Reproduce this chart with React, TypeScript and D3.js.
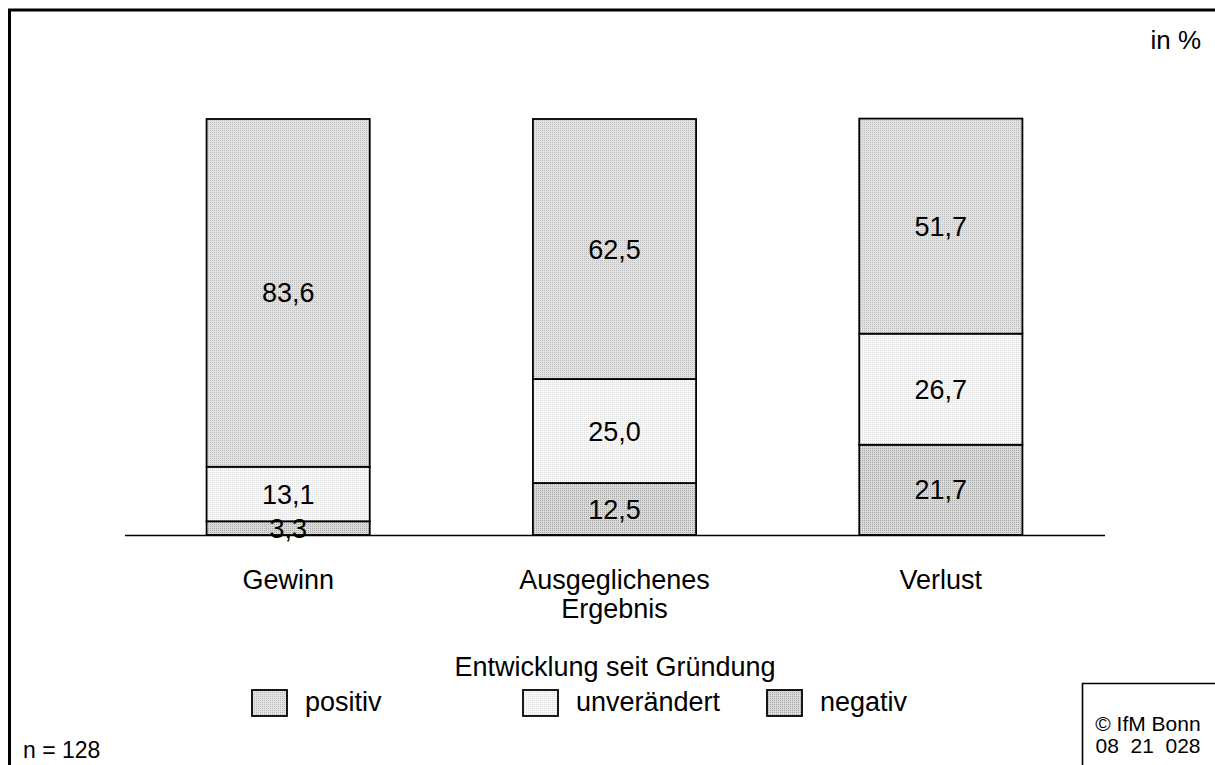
import React from "react";
import * as d3 from "d3";

const categories = ["Gewinn", "Ausgeglichenes\nErgebnis", "Verlust"];
const seriesNames = ["negativ", "unverändert", "positiv"];
const negativ = [3.3, 12.5, 21.7];
const unveraendert = [13.1, 25.0, 26.7];
const positiv = [83.6, 62.5, 51.7];
const legendOrder = ["positiv", "unverändert", "negativ"];

const W = 1215, H = 765;

export default function App() {
  const values: Record<string, number[]> = { negativ, "unverändert": unveraendert, positiv };
  const rows = categories.map((c, i) => {
    const r: any = { cat: c };
    seriesNames.forEach((s) => (r[s] = values[s][i]));
    return r;
  });
  const stack = d3.stack<any>().keys(seriesNames)(rows);
  const x = d3.scaleBand().domain(categories).range([125, 1104]).paddingInner(0.5).paddingOuter(0.25);
  const y = d3.scaleLinear().domain([0, 100]).range([535, 119]);
  const fills: Record<string, string> = {
    positiv: "url(#pPos)",
    "unverändert": "url(#pUnv)",
    negativ: "url(#pNeg)",
  };
  const fmt = (v: number) => v.toFixed(1).replace(".", ",");
  const font = "Liberation Sans, Arial, sans-serif";
  const legendX = [252, 523, 767];
  return (
    <svg width={W} height={H} style={{ position: "absolute", left: 0, top: 0 }} fontFamily={font}>
      <defs>
        <pattern id="pPos" width="2" height="2" patternUnits="userSpaceOnUse">
          <rect width="2" height="2" fill="#e2e2e2" />
          <rect width="1" height="1" fill="#bdbdbd" />
        </pattern>
        <pattern id="pUnv" width="2" height="2" patternUnits="userSpaceOnUse">
          <rect width="2" height="2" fill="#f8f8f8" />
          <rect width="1" height="1" fill="#dedede" />
        </pattern>
        <pattern id="pNeg" width="2" height="2" patternUnits="userSpaceOnUse">
          <rect width="2" height="2" fill="#dadada" />
          <rect width="1" height="1" fill="#a8a8a8" />
        </pattern>
      </defs>
      <rect x={0} y={0} width={W} height={H} fill="#fff" />
      <path d={`M9.5,${H + 5} V10 H${W + 5}`} fill="none" stroke="#000" strokeWidth={3} />
      <text x={1201} y={49} fontSize={26} textAnchor="end">in %</text>
      {stack.map((layer) => (
        <g key={layer.key}>
          {layer.map((d, i) => {
            const cat = categories[i];
            const x0 = x(cat)!;
            const y0 = y(d[1]);
            const y1 = y(d[0]);
            return (
              <rect key={cat} x={x0} y={y0} width={x.bandwidth()} height={y1 - y0} fill={fills[layer.key]} stroke="#000" strokeWidth={1.8} />
            );
          })}
        </g>
      ))}
      <line x1={125} x2={1105} y1={535.5} y2={535.5} stroke="#000" strokeWidth={1.6} />
      {stack.map((layer) => (
        <g key={layer.key + "t"}>
          {layer.map((d, i) => {
            const cat = categories[i];
            const cx = x(cat)! + x.bandwidth() / 2;
            const cy = (y(d[0]) + y(d[1])) / 2;
            return (
              <text key={cat} x={cx} y={cy + 9.5} fontSize={27} textAnchor="middle">
                {fmt(d[1] - d[0])}
              </text>
            );
          })}
        </g>
      ))}
      {categories.map((c) => (
        <text key={c} x={x(c)! + x.bandwidth() / 2} y={589} fontSize={27} textAnchor="middle">
          {c.split("\n").map((l, k) => (
            <tspan key={k} x={x(c)! + x.bandwidth() / 2} dy={k === 0 ? 0 : 29}>{l}</tspan>
          ))}
        </text>
      ))}
      <text x={615} y={676} fontSize={27} textAnchor="middle">Entwicklung seit Gründung</text>
      {legendOrder.map((s, i) => (
        <g key={s}>
          <rect x={legendX[i]} y={690} width={35} height={26} fill={fills[s]} stroke="#000" strokeWidth={1.8} />
          <text x={legendX[i] + 53} y={711} fontSize={27}>{s}</text>
        </g>
      ))}
      <text x={23} y={758} fontSize={23}>n = 128</text>
      <path d={`M1082.5,${H + 5} V683.5 H${W + 5}`} fill="none" stroke="#000" strokeWidth={1.6} />
      <text x={1148} y={731} fontSize={21} textAnchor="middle">© IfM Bonn</text>
      <text x={1148} y={753} fontSize={21} textAnchor="middle" style={{ whiteSpace: "pre" }}>{"08  21  028"}</text>
    </svg>
  );
}
